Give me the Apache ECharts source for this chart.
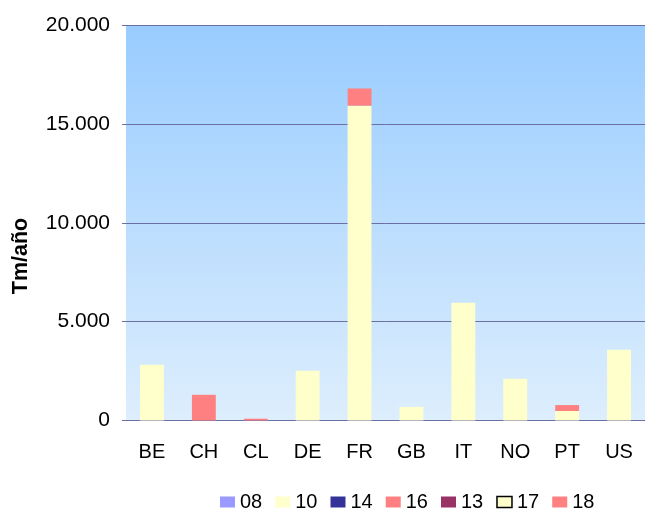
<!DOCTYPE html>
<html>
<head>
<meta charset="utf-8">
<script src="https://cdn.jsdelivr.net/npm/echarts@6/dist/echarts.min.js"></script>
<style>
  html, body { margin: 0; padding: 0; background: #fff; }
  #chart { width: 645px; height: 510px; }
</style>
</head>
<body>
<div id="chart"></div>
<script>
const categories = ['BE', 'CH', 'CL', 'DE', 'FR', 'GB', 'IT', 'NO', 'PT', 'US']
const seriesNames = ['08', '10', '14', '16', '13', '17', '18']
const seriesColors = ['#9999FF', '#FFFFCC', '#333399', '#FF8080', '#993366', '#FFFFCC', '#FF8080']

// Tm/año per country, one array per series
const s08 = [0, 0, 0, 0, 0, 0, 0, 0, 0, 0]
const s10 = [2820, 0, 0, 2510, 15920, 690, 5960, 2110, 480, 3580]
const s14 = [0, 0, 0, 0, 0, 0, 0, 0, 0, 0]
const s16 = [0, 1300, 90, 0, 870, 0, 0, 0, 300, 0]
const s13 = [0, 0, 0, 0, 0, 0, 0, 0, 0, 0]
const s17 = [0, 0, 0, 0, 0, 0, 0, 0, 0, 0]
const s18 = [0, 0, 0, 0, 0, 0, 0, 0, 0, 0]
const seriesData = [s08, s10, s14, s16, s13, s17, s18]

const fmt = v => String(v).replace(/\B(?=(\d{3})+(?!\d))/g, '.')

const chart = echarts.init(document.getElementById('chart'))

const series = seriesNames.map((name, i) => ({
  name: name,
  type: 'bar',
  stack: 'total',
  barCategoryGap: '54%',
  itemStyle: { color: seriesColors[i] },
  data: seriesData[i]
}))

chart.setOption({
  animation: false,
  textStyle: { fontFamily: 'Liberation Sans, Arial, sans-serif' },
  grid: {
    left: 126, top: 25, width: 524, bottom: 89.5,
    show: true, borderWidth: 0,
    backgroundColor: new echarts.graphic.LinearGradient(0, 0, 0, 1, [
      { offset: 0, color: '#99CCFF' },
      { offset: 1, color: '#DDEEFD' }
    ])
  },
  legend: {
    top: 487, left: 215,
    itemWidth: 15, itemHeight: 11, itemGap: 13,
    icon: 'rect',
    textStyle: { fontSize: 20, color: '#000' },
    data: seriesNames.map((n, i) => (n === '17'
      ? { name: n, itemStyle: { borderColor: '#000', borderWidth: 1.5 } }
      : { name: n }))
  },
  xAxis: {
    type: 'category',
    data: categories,
    axisLine: { lineStyle: { color: '#6B6FA3', width: 1 } },
    axisTick: { show: false },
    axisLabel: { fontSize: 20, color: '#000', margin: 22 }
  },
  yAxis: {
    type: 'value',
    min: 0, max: 20000, interval: 5000,
    axisLine: { show: false },
    axisTick: { show: true, length: 4, lineStyle: { color: '#6B6FA3' } },
    axisLabel: { fontSize: 21, color: '#000', margin: 16, formatter: fmt },
    splitLine: { lineStyle: { color: '#6B6FA3', width: 1 } }
  },
  graphic: [{
    type: 'text',
    x: 21, y: 256,
    rotation: Math.PI / 2,
    style: {
      text: 'Tm/año',
      font: 'bold 21.5px Liberation Sans, Arial, sans-serif',
      fill: '#000',
      textAlign: 'center',
      textVerticalAlign: 'middle'
    }
  }],
  series: series
})
</script>
</body>
</html>
